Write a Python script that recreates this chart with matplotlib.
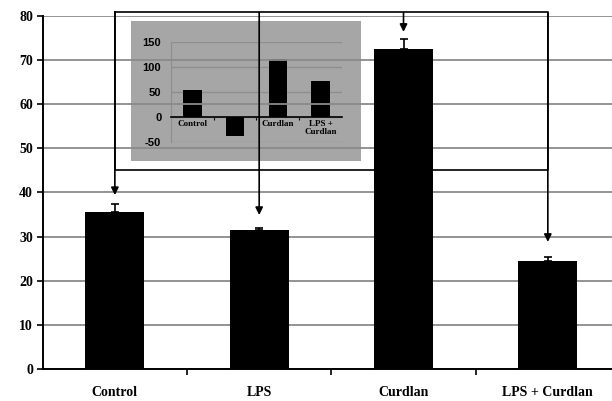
import matplotlib
matplotlib.use('Agg')
import matplotlib.pyplot as plt
from matplotlib.patches import Rectangle

# main chart data
categories = ['Control', 'LPS', 'Curdlan', 'LPS + Curdlan']
values = [35.6, 31.4, 72.6, 24.5]
errors = [1.7, 0.6, 2.3, 0.9]

# inset data
inset_labels = ['Control', '', 'Curdlan', 'LPS +\nCurdlan']
inset_values = [54, -39, 116, 73]

# arrow tips (y in main data units), frame levels
arrow_tips = [39.4, 34.9, 76.4, 28.8]
frame_top = 80.8
frame_bottom = 45.1

plt.rcParams['font.family'] = ['Liberation Serif', 'DejaVu Serif']

fig = plt.figure(figsize=(6.12, 4.01), dpi=100)
fig.patch.set_facecolor('white')

# gray box behind the inset
fig.patches.append(Rectangle((131 / 612, 1 - 161 / 401), 230 / 612, 140 / 401,
                             transform=fig.transFigure, facecolor='#a6a6a6',
                             edgecolor='none', zorder=0))

# inset axes
axi = fig.add_axes([0.2794, 0.6466, 0.2794, 0.2479], zorder=1)
axi.patch.set_alpha(0)
xi = range(len(inset_values))
axi.bar(xi, inset_values, width=0.43, color='black', zorder=3)
axi.set_xlim(-0.5, 3.5)
axi.set_ylim(-50, 150)
axi.set_yticks([-50, 0, 50, 100, 150])
axi.set_yticklabels(['-50', '0', '50', '100', '150'], fontsize=8,
                    fontweight='bold', family='Liberation Sans')
axi.yaxis.grid(True, color='#8e8e8e', linewidth=1)
axi.set_axisbelow(True)
axi.tick_params(axis='y', length=0, pad=7)
axi.set_xticks([0.5, 1.5, 2.5])
axi.set_xticklabels([])
axi.tick_params(axis='x', length=2, width=0.8, direction='out')
for s in ['top', 'right']:
    axi.spines[s].set_visible(False)
axi.spines['left'].set_color('#8e8e8e')
axi.spines['bottom'].set_position(('data', 0))
axi.spines['bottom'].set_linewidth(1.2)
for i, lab in enumerate(inset_labels):
    axi.text(i, -6, lab, ha='center', va='top', fontsize=6.5,
             fontweight='bold', linespacing=1.0)

# main axes
ax = fig.add_axes([42.7 / 612, 1 - 369 / 401, (620 - 42.7) / 612, (369 - 16) / 401],
                  zorder=2)
ax.patch.set_alpha(0)
x = range(len(categories))
ax.bar(x, values, width=0.41, color='black', zorder=3)
ax.errorbar(x, values, yerr=[[0] * 4, errors], fmt='none', ecolor='black',
            elinewidth=1.2, capsize=3, capthick=1.2, zorder=3)
ax.set_xlim(-0.5, 3.5)
ax.set_ylim(0, 80)
ax.set_yticks(range(0, 81, 10))
ax.yaxis.grid(True, color='#8a8a8a', linewidth=1.3)
ax.set_axisbelow(True)
ax.set_xticks(x)
ax.set_xticklabels(categories, fontsize=10, fontweight='bold')
ax.set_xticks([0.5, 1.5, 2.5, 3.5], minor=True)
ax.tick_params(axis='x', which='major', length=0, pad=12)
ax.tick_params(axis='x', which='minor', length=4, width=1.2)
ax.tick_params(axis='y', length=4, width=1.2, labelsize=10, pad=3)
for lab in ax.get_yticklabels():
    lab.set_fontweight('bold')
for s in ['top', 'right']:
    ax.spines[s].set_visible(False)
for s in ['left', 'bottom']:
    ax.spines[s].set_linewidth(1.4)

# bracket frame with arrows to each bar
ax.plot([0, 3, 3, 0, 0], [frame_top, frame_top, frame_bottom, frame_bottom, frame_top],
        color='black', linewidth=1.2, clip_on=False, zorder=4)
for i, tip in enumerate(arrow_tips):
    ax.annotate('', xy=(i, tip), xytext=(i, frame_top),
                arrowprops=dict(arrowstyle='-|>', color='black', lw=1.2,
                                mutation_scale=11, shrinkA=0, shrinkB=0),
                annotation_clip=False, zorder=4)

fig.savefig('out.png', dpi=100)
